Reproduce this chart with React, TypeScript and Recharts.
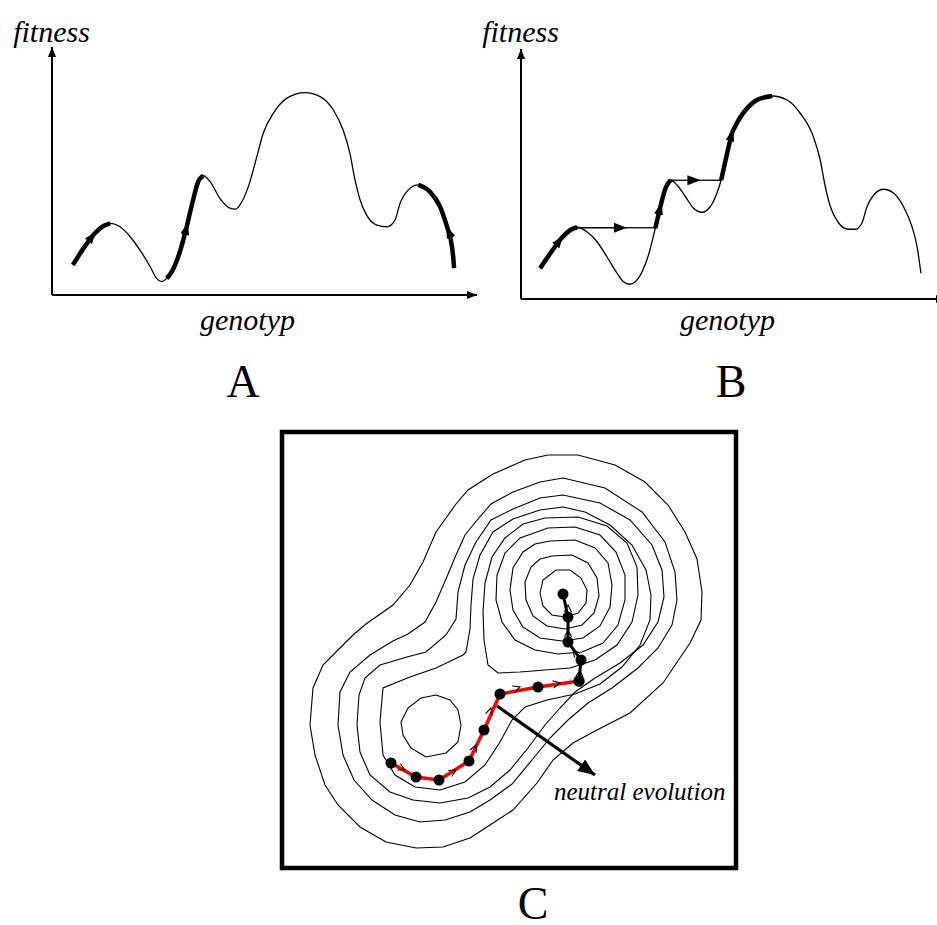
import { LineChart, Line, XAxis, YAxis, ReferenceArea, ReferenceDot } from 'recharts'

type P = [number, number]

// ---- panel A: fitness landscape, genotype 0-100 / fitness 0-100
const landscapeA: P[] = [
  [4.9, 12.1], [7.4, 18.8], [9.7, 24.2], [12.1, 27.8], [13.7, 28.9], [16.0, 27.5], [18.4, 23.5],
  [20.7, 18.1], [23.1, 11.4], [24.6, 6.7], [25.8, 5.4], [27.0, 6.7], [28.2, 9.4], [30.1, 17.5],
  [31.7, 27.5], [33.2, 38.3], [34.4, 45.7], [35.6, 48.1], [37.2, 45.7], [39.5, 39.0], [41.9, 35.0],
  [43.1, 34.6], [44.2, 36.3], [46.2, 43.7], [48.2, 55.8], [49.7, 65.2], [52.1, 73.3], [55.2, 79.3],
  [59.5, 81.6], [63.1, 80.0], [66.2, 74.6], [68.5, 66.5], [70.1, 57.1], [71.3, 46.4], [72.5, 38.3],
  [74.0, 32.3], [76.4, 28.2], [78.8, 27.5], [80.7, 30.2], [81.9, 37.0], [83.8, 42.3], [86.2, 44.4],
  [88.9, 41.7], [91.3, 35.6], [93.2, 26.2], [94.4, 15.4], [94.6, 10.8],
]
// [from, to, arrow at, arrow points backwards]
const climbsA: [number, number, number, boolean][] = [
  [4.9, 13.7, 9.7, false],
  [27.0, 35.6, 31.7, false],
  [86.2, 94.6, 93.2, true],
]

// ---- panel B
const landscapeB: P[] = [
  [4.5, 12.3], [6.9, 18.3], [9.3, 23.9], [11.6, 27.6], [13.2, 28.7], [15.5, 26.9], [17.9, 22.9],
  [20.2, 16.9], [22.6, 10.3], [24.1, 6.9], [25.6, 5.9], [26.9, 6.9], [28.5, 10.9], [30.0, 17.6],
  [31.6, 28.3], [32.8, 36.9], [34.0, 44.3], [35.2, 47.6], [36.7, 45.6], [38.7, 40.9], [40.6, 36.3],
  [42.6, 34.7], [44.5, 36.9], [46.1, 42.3], [47.1, 47.6], [48.5, 58.3], [49.6, 66.3], [51.2, 71.6],
  [53.2, 76.3], [55.5, 79.6], [59.1, 81.2], [62.6, 79.6], [65.7, 74.3], [68.8, 64.9], [70.4, 55.6],
  [71.6, 44.9], [72.8, 36.9], [74.7, 30.5], [76.7, 28.0], [78.7, 27.9], [80.2, 30.3], [81.4, 36.9],
  [83.0, 41.6], [85.3, 43.9], [87.7, 42.3], [90.0, 36.9], [92.0, 28.9], [93.2, 20.9], [94.1, 10.3],
]
const climbsB: [number, number, number, boolean][] = [
  [4.5, 13.2, 9.3, false],
  [31.6, 35.2, 32.8, false],
  [47.1, 59.1, 49.6, false],
]
// neutral jumps: [from, to, level, arrow at]
const jumpsB: [number, number, number, number][] = [
  [13.2, 31.6, 28.5, 24.9],
  [35.2, 47.1, 47.5, 42.2],
]

// ---- panel C: contour map (x right, y down)
const ring1: P[] = [
  [268, 25], [298, 25], [335, 35], [365, 52], [388, 75], [405, 102], [417, 129], [422, 162], [421, 190],
  [410, 213], [383, 253], [350, 283], [317, 300], [293, 313], [273, 330], [257, 353], [233, 380],
  [210, 395], [190, 408], [163, 417], [136, 418], [106, 412], [80, 397], [58, 375], [45, 355], [35, 325],
  [30, 295], [33, 258], [43, 235], [56, 222], [73, 205], [86, 194], [113, 175], [130, 155], [143, 132],
  [156, 102], [176, 74], [188, 60], [213, 44], [245, 30],
]
const ring2: P[] = [
  [233, 62], [260, 52], [283, 48], [325, 58], [362, 82], [385, 112], [395, 142], [397, 170], [392, 195],
  [378, 218], [358, 238], [332, 258], [308, 273], [288, 290], [270, 308], [252, 330], [232, 354],
  [210, 370], [190, 382], [165, 390], [140, 392], [115, 385], [92, 370], [74, 350], [63, 325], [58, 295],
  [60, 262], [70, 242], [90, 225], [113, 211], [128, 204], [145, 192], [156, 172], [166, 149], [176, 125],
  [185, 105], [198, 89], [211, 74],
]
const ring3: P[] = [
  [233, 79], [260, 68], [283, 65], [320, 73], [350, 90], [372, 115], [382, 140], [384, 167], [378, 192],
  [363, 215], [340, 233], [315, 248], [295, 262], [280, 278], [265, 295], [248, 318], [230, 340],
  [210, 357], [188, 368], [160, 373], [133, 370], [110, 362], [90, 345], [80, 322], [77, 295], [79, 265],
  [85, 248], [100, 235], [127, 227], [146, 222], [166, 205], [176, 189], [178, 162], [185, 135],
  [196, 112], [211, 90],
]
const ring4: P[] = [
  [260, 80], [283, 77], [305, 82], [330, 95], [352, 115], [366, 140], [371, 165], [370, 190], [360, 215],
  [342, 237], [320, 254], [295, 264], [267, 270], [245, 277], [232, 290], [220, 312], [205, 335],
  [185, 352], [160, 360], [135, 357], [115, 345], [103, 325], [100, 292], [103, 258], [130, 247],
  [156, 238], [183, 225], [186, 222], [190, 199], [191, 175], [193, 149], [200, 125], [213, 102], [233, 89],
]
const ring5: P[] = [
  [265, 88], [298, 87], [327, 96], [347, 113], [357, 137], [358, 165], [352, 192], [337, 215], [315, 230],
  [290, 238], [265, 240], [240, 242], [218, 243], [208, 235], [204, 210], [203, 182], [205, 153],
  [212, 127], [225, 108], [243, 94],
]
const ring6: P[] = [
  [268, 98], [295, 97], [320, 105], [336, 122], [345, 145], [345, 170], [338, 195], [323, 213], [302, 222],
  [278, 224], [255, 220], [235, 210], [222, 192], [216, 170], [217, 145], [225, 123], [240, 108],
]
const ring7: P[] = [
  [270, 111], [295, 110], [315, 118], [328, 133], [332, 155], [330, 177], [320, 196], [303, 208],
  [282, 211], [260, 208], [243, 197], [233, 180], [230, 160], [233, 138], [243, 122], [255, 114],
]
const ring8: P[] = [
  [272, 126], [292, 125], [308, 133], [317, 148], [319, 166], [314, 183], [302, 195], [285, 199],
  [267, 196], [253, 186], [246, 170], [245, 152], [251, 137], [260, 129],
]
const ring9: P[] = [
  [276, 140], [290, 140], [301, 148], [307, 160], [306, 173], [298, 183], [285, 187], [272, 185],
  [263, 176], [260, 163], [263, 150],
]
const ringSmallPeak: P[] = [
  [156, 265], [170, 270], [178, 280], [181, 295], [178, 312], [166, 323], [146, 327], [131, 318],
  [123, 305], [121, 292], [128, 278], [141, 268],
]
const contours = [ring1, ring2, ring3, ring4, ring5, ring6, ring7, ring8, ring9, ringSmallPeak]

const neutralPath: P[] = [[111, 333], [136, 347], [159, 350], [189, 331], [204, 300], [220, 264], [258, 257], [299, 251]]
const climbPath: P[] = [[299, 251], [301, 230], [288, 212], [288, 187], [283, 164]]
// chevrons: [x, y, index of the stop before it]
const neutralChevrons: [number, number, number][] = [
  [125, 340, 0], [176, 340, 2], [196, 315, 3], [211, 278, 4], [240, 257, 5], [280, 253, 6],
]
const climbChevrons: [number, number, number][] = [[300, 240, 0], [293, 220, 1], [288, 200, 2], [288, 175, 3]]
const pointer: P[] = [[217, 276], [315, 345]]

const pts = (arr: P[]) => arr.map(([x, y]) => ({ x, y }))
const between = (arr: P[], a: number, b: number) => pts(arr.filter(([x]) => x >= a - 1e-6 && x <= b + 1e-6))

const serif = '"Liberation Serif", "Times New Roman", serif'
const axisText = { fontFamily: serif, fontStyle: 'italic', fontSize: 30, fill: '#000' }

function Landscape({ id, curve, climbs, jumps = [], width, margin, genotypDx, genotypOffset, fitnessOffset }: any) {
  return (
    <LineChart width={width} height={345} margin={margin}>
      <defs>
        <marker id={`${id}-axis`} viewBox="0 0 10 8" refX="10" refY="4" markerWidth="10" markerHeight="8"
          markerUnits="userSpaceOnUse" orient="auto-start-reverse">
          <path d="M0,0 L10,4 L0,8 z" fill="#000" />
        </marker>
        <marker id={`${id}-head`} viewBox="0 0 12 9" refX="8" refY="4.5" markerWidth="12" markerHeight="9"
          markerUnits="userSpaceOnUse" orient="auto-start-reverse">
          <path d="M0,0 L12,4.5 L0,9 z" fill="#000" />
        </marker>
        <marker id={`${id}-jump`} viewBox="0 0 13 10" refX="13" refY="5" markerWidth="13" markerHeight="10"
          markerUnits="userSpaceOnUse" orient="auto">
          <path d="M0,0 L13,5 L0,10 z" fill="#000" />
        </marker>
      </defs>
      <XAxis type="number" dataKey="x" domain={[0, 100]} height={1} tick={false} tickLine={false}
        axisLine={{ stroke: '#000', strokeWidth: 2, markerEnd: `url(#${id}-axis)` }}
        label={{ value: 'genotyp', position: 'bottom', offset: genotypOffset, dx: genotypDx, style: axisText }} />
      <YAxis type="number" domain={[0, 100]} width={1} tick={false} tickLine={false}
        axisLine={{ stroke: '#000', strokeWidth: 2, markerStart: `url(#${id}-axis)` }}
        label={{ value: 'fitness', position: 'top', offset: fitnessOffset, style: axisText }} />
      <Line data={pts(curve)} dataKey="y" type="monotone" stroke="#000" strokeWidth={1.3} dot={false} isAnimationActive={false} />
      {jumps.map(([a, b, level, at]: number[], i: number) => [
        <Line key={`j${i}a`} data={[{ x: a, y: level }, { x: at, y: level }]} dataKey="y" type="linear" stroke="#000"
          strokeWidth={1.3} dot={false} markerEnd={`url(#${id}-jump)`} isAnimationActive={false} />,
        <Line key={`j${i}b`} data={[{ x: at, y: level }, { x: b, y: level }]} dataKey="y" type="linear" stroke="#000"
          strokeWidth={1.3} dot={false} isAnimationActive={false} />,
      ])}
      {climbs.map(([a, b, at, back]: any[], i: number) => [
        <Line key={`c${i}a`} data={between(curve, a, at)} dataKey="y" type="monotone" stroke="#000" strokeWidth={4.5}
          dot={false} markerEnd={back ? undefined : `url(#${id}-head)`} isAnimationActive={false} />,
        <Line key={`c${i}b`} data={between(curve, at, b)} dataKey="y" type="monotone" stroke="#000" strokeWidth={4.5}
          dot={false} markerStart={back ? `url(#${id}-head)` : undefined} isAnimationActive={false} />,
      ])}
    </LineChart>
  )
}

function ContourMap() {
  const stopDot = { r: 5.5, fill: '#000', stroke: 'none' }
  return (
    <LineChart width={494} height={476} margin={{ top: 20, right: 20, bottom: 20, left: 20 }}>
      <defs>
        <marker id="chev" viewBox="-1 -1 9 9" refX="7" refY="3.5" markerWidth="9" markerHeight="9"
          markerUnits="userSpaceOnUse" orient="auto">
          <path d="M0,0 L7,3.5 L0,7" fill="none" stroke="#000" strokeWidth="1.1" />
        </marker>
        <marker id="bigHead" viewBox="0 0 17 14" refX="17" refY="7" markerWidth="17" markerHeight="14"
          markerUnits="userSpaceOnUse" orient="auto">
          <path d="M0,0 L17,7 L0,14 z" fill="#000" />
        </marker>
      </defs>
      <XAxis type="number" dataKey="x" domain={[2, 456]} hide />
      <YAxis type="number" domain={[2, 438]} reversed hide />
      <ReferenceArea x1={2} x2={456} y1={2} y2={438} fill="none" fillOpacity={0} stroke="#000" strokeWidth={4.5} />
      {contours.map((ring, i) => (
        <Line key={`r${i}`} data={pts(ring)} dataKey="y" type="linearClosed" stroke="#000" strokeWidth={1.1}
          dot={false} isAnimationActive={false} />
      ))}
      <Line data={pts(pointer)} dataKey="y" type="linear" stroke="#000" strokeWidth={3.2} dot={false}
        markerEnd="url(#bigHead)" isAnimationActive={false} />
      <Line data={pts(neutralPath)} dataKey="y" type="linear" stroke="#ff0000" strokeWidth={3.5} dot={stopDot}
        isAnimationActive={false} />
      <Line data={pts(climbPath)} dataKey="y" type="linear" stroke="#000" strokeWidth={3} dot={stopDot}
        isAnimationActive={false} />
      {neutralChevrons.map(([x, y, k], i) => (
        <Line key={`nc${i}`} data={pts([neutralPath[k], [x, y]])} dataKey="y" type="linear" stroke="none"
          dot={false} markerEnd="url(#chev)" isAnimationActive={false} />
      ))}
      {climbChevrons.map(([x, y, k], i) => (
        <Line key={`cc${i}`} data={pts([climbPath[k], [x, y]])} dataKey="y" type="linear" stroke="none"
          dot={false} markerEnd="url(#chev)" isAnimationActive={false} />
      ))}
      <ReferenceDot x={274} y={361} r={0} fill="none" stroke="none"
        label={{ value: 'neutral evolution', position: 'right', offset: 0,
          style: { fontFamily: serif, fontStyle: 'italic', fontSize: 25, fill: '#000' } }} />
    </LineChart>
  )
}

const panelTitle = (left: number, top: number) => ({
  position: 'absolute' as const, left: left - 50, top, width: 100, textAlign: 'center' as const,
  fontFamily: serif, fontSize: 46, lineHeight: '40px', color: '#000',
})

export default function App() {
  return (
    <div style={{ position: 'absolute', left: 0, top: 0, width: 937, height: 925, overflow: 'hidden', background: '#fff' }}>
      <div style={{ position: 'absolute', left: 0, top: 0 }}>
        <Landscape id="a" curve={landscapeA} climbs={climbsA} width={480}
          margin={{ top: 47, right: 3, bottom: 49, left: 51 }} genotypDx={-17} genotypOffset={13} fitnessOffset={5} />
      </div>
      <div style={{ position: 'absolute', left: 480, top: 0 }}>
        <Landscape id="b" curve={landscapeB} climbs={climbsB} jumps={jumpsB} width={470}
          margin={{ top: 49, right: 4, bottom: 45, left: 40 }} genotypDx={-6} genotypOffset={9} fitnessOffset={7} />
      </div>
      <div style={{ position: 'absolute', left: 262, top: 412 }}>
        <ContourMap />
      </div>
      <div style={panelTitle(243, 362)}>A</div>
      <div style={panelTitle(731, 362)}>B</div>
      <div style={panelTitle(533, 884)}>C</div>
    </div>
  )
}
